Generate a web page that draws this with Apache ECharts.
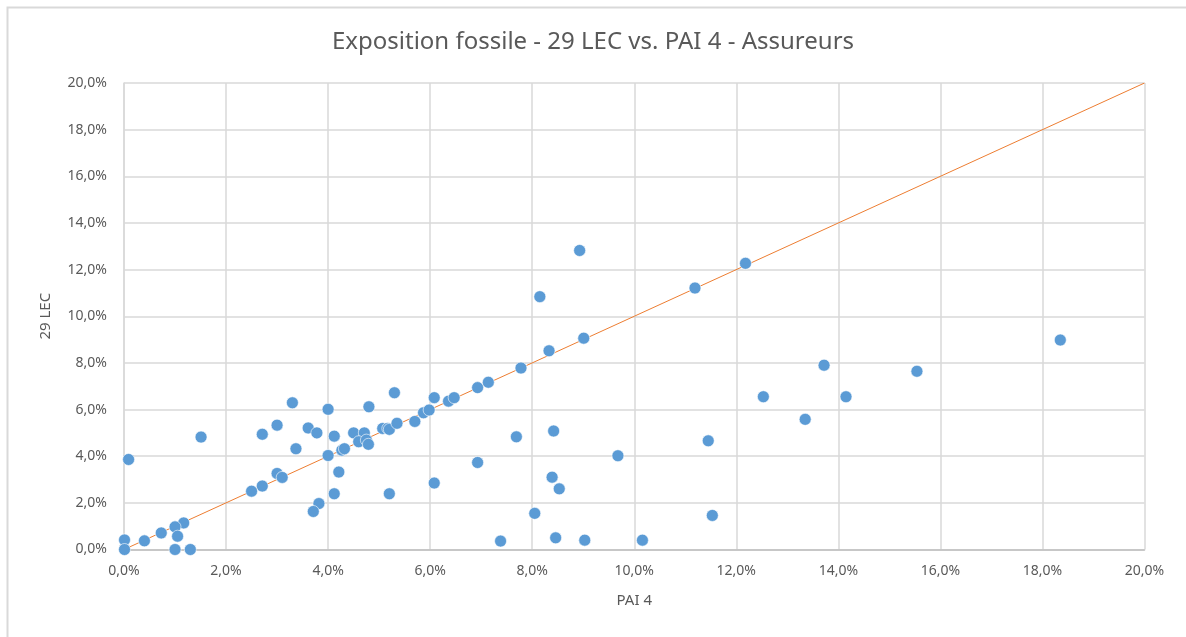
<!DOCTYPE html>
<html>
<head>
<meta charset="utf-8">
<script src="https://cdn.jsdelivr.net/npm/echarts@6/dist/echarts.min.js"></script>
<style>
html,body{margin:0;padding:0;background:#fff;}
#chart{width:1186px;height:637px;}
</style>
</head>
<body>
<div id="chart"></div>
<script>
// PAI 4 (%) values
const pai4 = [0.09,1.51,2.71,3.00,3.30,3.61,3.78,4.00,4.12,3.37,4.00,4.27,4.32,4.21,4.12,3.82,3.71,3.00,3.10,2.71,2.50,1.17,1.00,1.05,0.73,0.40,0.01,0.01,1.00,1.30,
  5.30,4.80,4.50,4.71,4.60,4.75,4.79,5.07,5.17,5.20,5.35,5.70,5.87,5.98,6.08,6.36,6.47,6.93,7.14,7.69,6.93,6.08,5.20,8.05,7.38,
  8.93,8.15,12.18,11.19,9.01,8.33,7.78,13.72,12.53,14.15,13.35,8.42,11.45,9.68,8.39,8.53,11.53,8.46,9.03,10.16,18.35,15.54];
// 29 LEC (%) values
const lec29 = [3.86,4.82,4.94,5.33,6.29,5.21,5.00,6.01,4.86,4.32,4.03,4.26,4.32,3.32,2.39,1.97,1.63,3.26,3.09,2.72,2.50,1.14,0.97,0.57,0.71,0.37,0.41,0.00,0.00,0.00,
  6.72,6.12,5.00,5.00,4.62,4.69,4.51,5.19,5.19,5.15,5.41,5.49,5.86,5.98,6.51,6.36,6.51,6.94,7.17,4.83,3.73,2.85,2.39,1.55,0.36,
  12.82,10.84,12.27,11.21,9.06,8.52,7.78,7.90,6.55,6.55,5.58,5.08,4.66,4.02,3.10,2.60,1.46,0.50,0.40,0.40,8.98,7.64];
// Reference line y = x
const refLineX = [0, 20];
const refLineY = [0, 20];

const title = 'Exposition fossile - 29 LEC vs. PAI 4 - Assureurs';
const xName = 'PAI 4';
const yName = '29 LEC';

const points = pai4.map((v, i) => [v, lec29[i]]);
const linePts = refLineX.map((v, i) => [v, refLineY[i]]);
const fmt = v => v.toFixed(1).replace('.', ',') + '%';
const font = 'Noto Sans';
const txt = '#595959';

const chart = echarts.init(document.getElementById('chart'), null, {renderer: 'canvas'});
chart.setOption({
  animation: false,
  backgroundColor: '#fff',
  graphic: [{
    type: 'rect', left: 5, top: 5, z: -10,
    shape: {x: 0, y: 0, width: 1300, height: 800},
    style: {fill: 'none', stroke: '#D9D9D9', lineWidth: 2}
  }],
  title: {
    text: title, left: 'center', top: 25,
    textStyle: {fontFamily: font, fontSize: 24, fontWeight: 'normal', color: txt}
  },
  grid: {left: 124, right: 41.5, top: 83, bottom: 87.5, containLabel: false},
  xAxis: {
    type: 'value', min: 0, max: 20, interval: 2,
    name: xName, nameLocation: 'middle', nameGap: 44,
    nameTextStyle: {fontFamily: font, fontSize: 15, color: txt},
    axisLine: {show: true, lineStyle: {color: '#BFBFBF', width: 1.5}},
    axisTick: {show: false},
    axisLabel: {formatter: fmt, fontFamily: font, fontSize: 14, color: txt, margin: 15},
    splitLine: {show: true, lineStyle: {color: '#D9D9D9', width: 1.5}}
  },
  yAxis: {
    type: 'value', min: 0, max: 20, interval: 2,
    name: yName, nameLocation: 'middle', nameGap: 71, nameRotate: 90,
    nameTextStyle: {fontFamily: font, fontSize: 15, color: txt},
    axisLine: {show: true, lineStyle: {color: '#D9D9D9', width: 1.5}},
    axisTick: {show: false},
    axisLabel: {formatter: fmt, fontFamily: font, fontSize: 14, color: txt, margin: 17},
    splitLine: {show: true, lineStyle: {color: '#D9D9D9', width: 1.5}}
  },
  series: [
    {
      type: 'line', data: linePts, symbol: 'none', z: 1,
      lineStyle: {color: '#ED7D31', width: 1}
    },
    {
      type: 'scatter', data: points, symbolSize: 12, z: 2,
      itemStyle: {color: '#5B9BD5', borderColor: '#ffffff', borderWidth: 0.6, opacity: 1}
    }
  ]
});
</script>
</body>
</html>
